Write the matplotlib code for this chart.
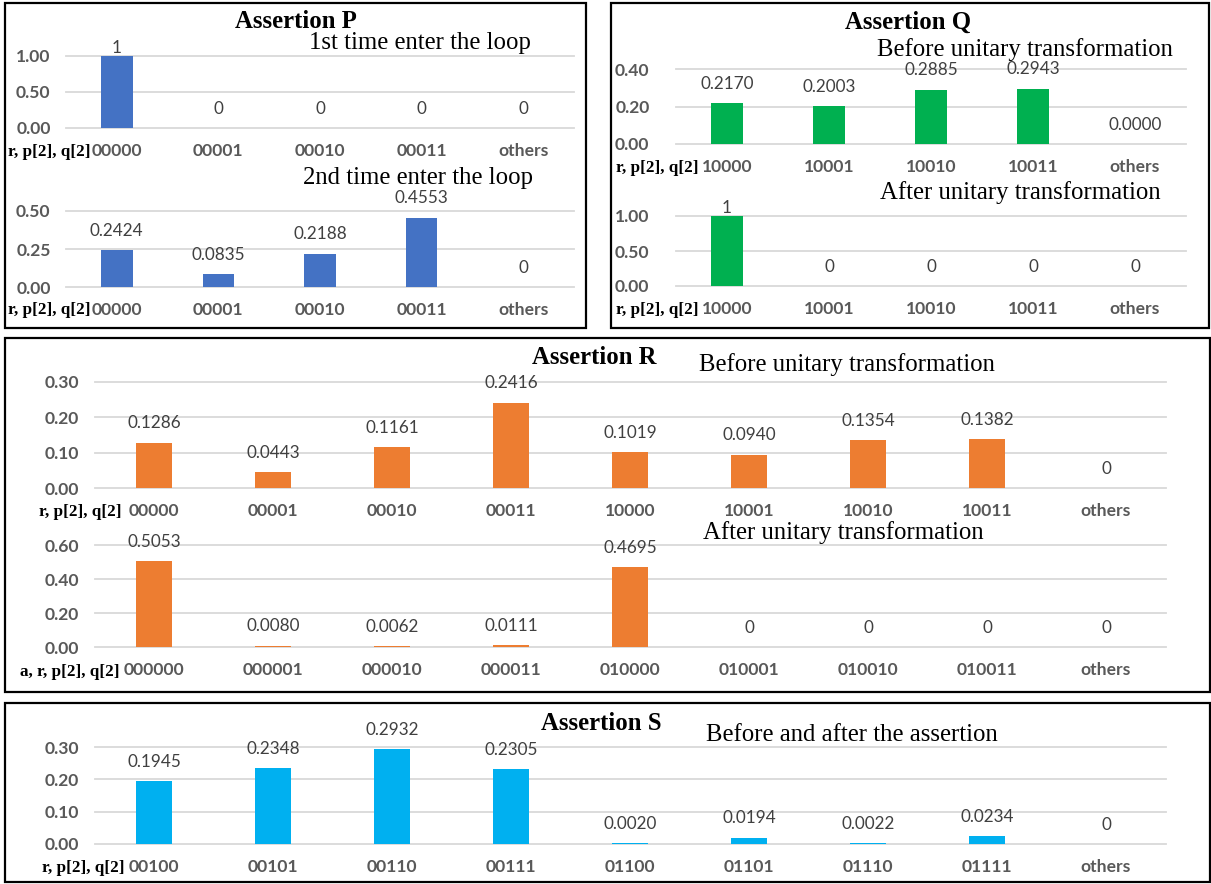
import numpy as np
import matplotlib
matplotlib.use("Agg")
import matplotlib.pyplot as plt
from matplotlib.patches import Rectangle
from matplotlib.ticker import FormatStrFormatter

# data
p_cats = ["00000", "00001", "00010", "00011", "others"]
p1_vals = [1.0, 0, 0, 0, 0]
p1_labels = ["1", "0", "0", "0", "0"]
p2_vals = [0.2424, 0.0835, 0.2188, 0.4553, 0]
p2_labels = ["0.2424", "0.0835", "0.2188", "0.4553", "0"]

q_cats = ["10000", "10001", "10010", "10011", "others"]
q1_vals = [0.2170, 0.2003, 0.2885, 0.2943, 0.0]
q1_labels = ["0.2170", "0.2003", "0.2885", "0.2943", "0.0000"]
q2_vals = [1.0, 0, 0, 0, 0]
q2_labels = ["1", "0", "0", "0", "0"]

r1_cats = ["00000", "00001", "00010", "00011", "10000", "10001", "10010", "10011", "others"]
r1_vals = [0.1286, 0.0443, 0.1161, 0.2416, 0.1019, 0.0940, 0.1354, 0.1382, 0]
r1_labels = ["0.1286", "0.0443", "0.1161", "0.2416", "0.1019", "0.0940", "0.1354", "0.1382", "0"]
r2_cats = ["000000", "000001", "000010", "000011", "010000", "010001", "010010", "010011", "others"]
r2_vals = [0.5053, 0.0080, 0.0062, 0.0111, 0.4695, 0, 0, 0, 0]
r2_labels = ["0.5053", "0.0080", "0.0062", "0.0111", "0.4695", "0", "0", "0", "0"]

s_cats = ["00100", "00101", "00110", "00111", "01100", "01101", "01110", "01111", "others"]
s_vals = [0.1945, 0.2348, 0.2932, 0.2305, 0.0020, 0.0194, 0.0022, 0.0234, 0]
s_labels = ["0.1945", "0.2348", "0.2932", "0.2305", "0.0020", "0.0194", "0.0022", "0.0234", "0"]

BLUE = "#4472C4"
GREEN = "#00B050"
ORANGE = "#ED7D31"
CYAN = "#00B0F0"

W, H = 1211, 884
fig = plt.figure(figsize=(W / 100, H / 100), dpi=100)

SANS = "Lato"
SERIF = "Liberation Serif"


def px_axes(l, t, r, b):
    return fig.add_axes([l / W, 1 - b / H, (r - l) / W, (b - t) / H])


def box(l, t, r, b):
    fig.patches.append(Rectangle((l / W, 1 - b / H), (r - l) / W, (b - t) / H,
                                 transform=fig.transFigure, fill=False,
                                 ec="black", lw=1.6, zorder=10))


def draw(ax, cats, vals, labels, color, ymax, step, ypad):
    x = np.arange(len(cats))
    ax.bar(x, vals, width=0.31, color=color, zorder=3)
    ax.set_xlim(-0.5, len(cats) - 0.5)
    ax.set_ylim(0, ymax)
    ax.set_yticks(np.arange(0, ymax + step / 2, step))
    ax.yaxis.set_major_formatter(FormatStrFormatter("%.2f"))
    ax.grid(axis="y", color="#D9D9D9", lw=1.3)
    for gl in ax.get_ygridlines():
        gl.set_clip_on(False)
    ax.set_axisbelow(True)
    for sp in ax.spines.values():
        sp.set_visible(False)
    ax.set_xticks(x, cats)
    ax.tick_params(axis="x", length=0, pad=11)
    ax.tick_params(axis="y", length=0, pad=ypad)
    for t in ax.get_xticklabels() + ax.get_yticklabels():
        t.set_fontfamily(SANS)
        t.set_fontweight("bold")
        t.set_fontsize(12.6)
        t.set_color("#595959")
    for xi, v, s in zip(x, vals, labels):
        off = 6 if v >= ymax * 0.99 else 14
        ax.annotate(s, (xi, v), xytext=(0, off), textcoords="offset points",
                    ha="center", va="center", fontsize=12.3, family=SANS,
                    color="#404040", annotation_clip=False)


def axis_name(s, right, y):
    fig.text(right / W, 1 - y / H, s, ha="right", va="center", family=SERIF,
             fontweight="bold", fontsize=12.3, color="black")


def title(s, x, y, bold=False):
    fig.text(x / W, 1 - y / H, s, ha="center", va="center", family=SERIF,
             fontweight="bold" if bold else "normal", fontsize=17.8, color="black")


# Assertion P
ax = px_axes(66, 56, 574, 128)
draw(ax, p_cats, p1_vals, p1_labels, BLUE, 1.0, 0.5, 11)
ax = px_axes(66, 211, 574, 287)
draw(ax, p_cats, p2_vals, p2_labels, BLUE, 0.5, 0.25, 11)
axis_name("r, p[2], q[2]", 90, 152)
axis_name("r, p[2], q[2]", 90, 310)
title("Assertion P", 296, 21, bold=True)
title("1st time enter the loop", 420, 43)
title("2nd time enter the loop", 418, 178)
box(5, 3, 586, 328)

# Assertion Q
ax = px_axes(676, 69, 1186, 144)
draw(ax, q_cats, q1_vals, q1_labels, GREEN, 0.4, 0.2, 19)
ax = px_axes(676, 216, 1186, 286)
draw(ax, q_cats, q2_vals, q2_labels, GREEN, 1.0, 0.5, 19)
axis_name("r, p[2], q[2]", 698, 168)
axis_name("r, p[2], q[2]", 698, 310)
title("Assertion Q", 908, 22, bold=True)
title("Before unitary transformation", 1025, 50)
title("After unitary transformation", 1020, 193)
box(611, 3, 1209, 328)

# Assertion R
ax = px_axes(94.5, 382, 1165.5, 488)
draw(ax, r1_cats, r1_vals, r1_labels, ORANGE, 0.3, 0.1, 11)
ax = px_axes(94.5, 545, 1165.5, 647)
draw(ax, r2_cats, r2_vals, r2_labels, ORANGE, 0.6, 0.2, 11)
axis_name("r, p[2], q[2]", 122, 512)
axis_name("a, r, p[2], q[2]", 120, 672)
title("Assertion R", 594, 358, bold=True)
title("Before unitary transformation", 847, 365)
title("After unitary transformation", 843, 533)
box(5, 338, 1210, 692)

# Assertion S
ax = px_axes(94.5, 747, 1165.5, 844)
draw(ax, s_cats, s_vals, s_labels, CYAN, 0.3, 0.1, 11)
axis_name("r, p[2], q[2]", 125, 868)
title("Assertion S", 601, 723, bold=True)
title("Before and after the assertion", 852, 735)
box(5, 703, 1210, 882)

fig.savefig("out.png", dpi=100)
